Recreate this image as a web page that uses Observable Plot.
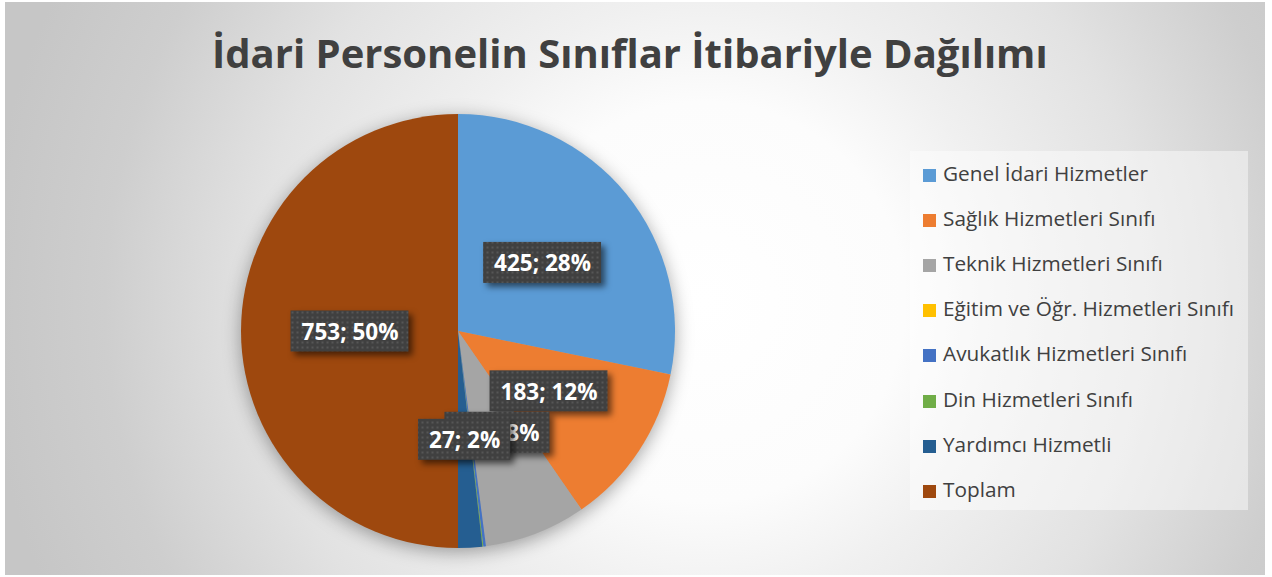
<!DOCTYPE html>
<html>
<head>
<meta charset="utf-8">
<script src="https://cdn.jsdelivr.net/npm/d3@7"></script>
<script src="https://cdn.jsdelivr.net/npm/@observablehq/plot@0.6"></script>
<style>
  html, body { margin: 0; padding: 0; background: #ffffff; }
  #chart { position: relative; width: 1272px; height: 577px; overflow: hidden; }
  #bg { position: absolute; left: 5px; top: 2px; width: 1260px; height: 573px;
        background: radial-gradient(circle 720px at 700px 300px, #ffffff 0px, #fcfcfc 200px, #f0f0f0 300px, #e2e2e2 450px, #cecece 600px, #c6c6c6 720px); }
  #title { position: absolute; left: 212px; top: 0px; white-space: nowrap;
           font-family: "Open Sans", Lato, sans-serif; font-weight: bold; color: #404040; line-height: 1; }
  #legend { position: absolute; left: 910px; top: 151px; width: 338px; height: 359px; background: rgba(255,255,255,0.45); }
  .item { position: absolute; left: 13px; height: 24px; line-height: 24px; font-family: "Open Sans", Lato, sans-serif; color: #404040; white-space: nowrap; }
  .sw { display: inline-block; width: 13px; height: 13px; margin-right: 7px; vertical-align: -1px; }
  #plot { position: absolute; left: 0; top: 0; }
  #plot svg rect { fill: url(#dots); filter: drop-shadow(4px 4px 3px rgba(0,0,0,0.55)); }
  #plot svg g.pie { filter: drop-shadow(0px 4px 9px rgba(0,0,0,0.35)); }
</style>
</head>
<body>
<svg width="0" height="0" style="position:absolute">
  <defs>
    <pattern id="dots" width="5" height="5" patternUnits="userSpaceOnUse">
      <rect width="5" height="5" fill="#404040"></rect>
      <rect x="1.5" y="1.5" width="2" height="2" fill="#565656"></rect>
    </pattern>
  </defs>
</svg>
<div id="chart">
  <div id="bg"></div>
  <div id="title"></div>
  <div id="legend"></div>
  <div id="plot"></div>
</div>
<script>
// ---- data ----
const titleText = "İdari Personelin Sınıflar İtibariyle Dağılımı";
const categories = [
  "Genel İdari Hizmetler",
  "Sağlık Hizmetleri Sınıfı",
  "Teknik Hizmetleri Sınıfı",
  "Eğitim ve Öğr. Hizmetleri Sınıfı",
  "Avukatlık Hizmetleri Sınıfı",
  "Din Hizmetleri Sınıfı",
  "Yardımcı Hizmetli",
  "Toplam"
];
const values = [425, 183, 114, 0, 3, 1, 27, 753];
const colors = ["#5B9BD5", "#ED7D31", "#A5A5A5", "#FFC000", "#4472C4", "#70AD47", "#255E91", "#9E480E"];

// ---- layout ----
const W = 1272, H = 577;
const pieLayout = { cx: 458, cy: 331, r: 217 };
const FONT = "Open Sans";

const ctx = document.createElement("canvas").getContext("2d");
function fitSize(text, weight, targetWidth) {
  ctx.font = `${weight} 100px "${FONT}"`;
  return 100 * targetWidth / ctx.measureText(text).width;
}

// title
const titleEl = document.getElementById("title");
titleEl.textContent = titleText;
const titleSize = fitSize(titleText, "bold", 836);
titleEl.style.fontSize = titleSize + "px";
titleEl.style.top = (74 - titleSize * 1.02) + "px";

// legend
const legendSize = fitSize(categories[0], "normal", 205);
const legend = document.getElementById("legend");
categories.forEach((c, i) => {
  const div = document.createElement("div");
  div.className = "item";
  div.style.fontSize = legendSize + "px";
  div.style.top = (10 + i * 45.1) + "px";
  div.innerHTML = `<span class="sw" style="background:${colors[i]}"></span>`;
  div.appendChild(document.createTextNode(c));
  legend.appendChild(div);
});

const total = d3.sum(values);
const data = categories.map((c, i) => ({ category: c, value: values[i], color: colors[i] }));
const arcs = d3.pie().value(d => d.value).sort(null)(data);
const arcGen = d3.arc().innerRadius(0);

// label data from arc centroids (labels that round to 0% are hidden beneath others in the reference)
const labelSize = fitSize("425; 28%", "bold", 97);
ctx.font = `bold ${labelSize}px "${FONT}"`;
const labels = arcs.filter(a => Math.round(a.data.value / total * 100) > 0).map(a => {
  const [dx, dy] = d3.arc().innerRadius(0).outerRadius(pieLayout.r).centroid(a);
  const text = `${a.data.value}; ${Math.round(a.data.value / total * 100)}%`;
  const w = ctx.measureText(text).width + 21;
  return { text, x: pieLayout.cx + dx, y: pieLayout.cy + dy, w, h: 41 };
});

function pieMark(index, scales) {
  const cx = scales.x(pieLayout.cx), cy = scales.y(pieLayout.cy);
  const r = scales.x(pieLayout.cx + pieLayout.r) - cx;
  const g = d3.create("svg:g").attr("class", "pie").attr("transform", `translate(${cx},${cy})`);
  g.selectAll("path").data(arcs).join("path")
    .attr("d", d => arcGen.outerRadius(r)(d))
    .attr("fill", d => d.data.color);
  return g.node();
}

const labelMarks = labels.flatMap(d => [
  Plot.rect([d], { x1: d => d.x - d.w / 2, x2: d => d.x + d.w / 2, y1: d => d.y - d.h / 2, y2: d => d.y + d.h / 2, fill: "#404040" }),
  Plot.text([d], { x: "x", y: "y", text: "text", fill: "white", fontSize: labelSize, fontWeight: "bold", fontFamily: FONT, dy: 1 })
]);

const plot = Plot.plot({
  width: W, height: H,
  margin: 0,
  style: { background: "transparent", overflow: "visible" },
  x: { domain: [0, W], range: [0, W], axis: null },
  y: { domain: [0, H], range: [0, H], axis: null },
  marks: [pieMark, ...labelMarks]
});
document.getElementById("plot").appendChild(plot);
</script>
</body>
</html>
